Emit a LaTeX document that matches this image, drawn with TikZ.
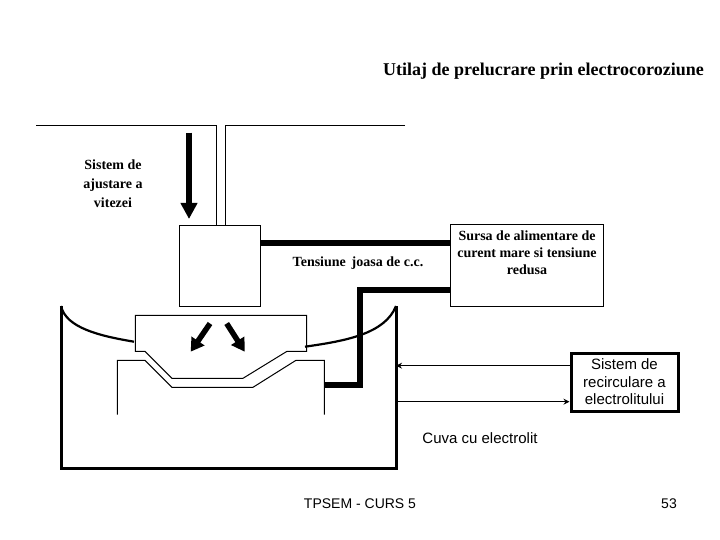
\documentclass[tikz,border=0pt]{standalone}
\usepackage{fontspec}
\setmainfont{Liberation Serif}
\setsansfont{Liberation Sans}
\usetikzlibrary{arrows.meta, positioning}
\begin{document}
\begin{tikzpicture}[
  x=1pt, y=-1pt,
  box/.style    ={draw=black, fill=white, line width=1pt, inner sep=0pt},
  wall/.style   ={line width=1pt, draw=black},
  tank/.style   ={line width=3pt, draw=black},
  level/.style  ={line width=2.2pt, draw=black},
  wire/.style   ={line width=6pt, draw=black},
  feed/.style   ={-{Triangle[width=16pt, length=16pt]}, line width=6pt, draw=black},
  jet/.style    ={-{Triangle[width=15pt, length=13pt]}, line width=5.5pt, draw=black},
  flow/.style   ={-{Stealth[length=6pt, width=6pt]}, line width=1.5pt, draw=black},
  lab/.style    ={font=\fontsize{14}{17}\selectfont\bfseries, align=center, inner sep=0pt},
  sanslab/.style={font=\fontsize{15}{17.5}\selectfont\sffamily, align=center, inner sep=0pt},
  foot/.style   ={font=\fontsize{14}{16}\selectfont\sffamily, inner sep=0pt},
]
\useasboundingbox (0,0) rectangle (720,540);

\coordinate (railL) at (216,126);
\coordinate (railR) at (225,126);
\coordinate (tankL) at (61,306);
\coordinate (tankR) at (396,306);
\coordinate (dc)    at (320,242.7);
\coordinate (bend)  at (360,289.7);
\coordinate (join)  at (324,385);
\coordinate (inlet) at (396,365.7);
\coordinate (outlet) at (396,401.7);

\node[box, minimum width=81.5pt, minimum height=81.5pt] (head) at (220,266) {};
\node[box, minimum width=153.5pt, minimum height=82pt] (source) at (527,265.7) {};
\node[box, line width=3pt, minimum width=107pt, minimum height=58pt] (recirc) at (624.5,382) {};

\draw[wall] (36,126) -- (railL) -- (railL |- head.north);
\draw[wall] (405,126) -- (railR) -- (railR |- head.north);
\draw[feed] (189,132.7) -- (189,219);

\draw[wire] (head.east |- dc) -- (source.west |- dc);
\draw[level] (305,346.7) .. controls (345,341) and (385,334) .. (tankR);
\draw[wire] (source.west |- bend) -- (bend) -- (bend |- join) -- (join);

\draw[tank] (tankL) -- (61,468) -- (396,468) -- (tankR);
\draw[level] (tankL) .. controls (66,328) and (100,336) .. (134,341.7);

\draw[wall] (135.3,315.3) -- (306.7,315.3) -- (306.7,351.3) -- (287,351.3) -- (243,378.3)
  -- (172,378.3) -- (145,351.3) -- (135.3,351.3) -- cycle;
\draw[wall] (117.3,414.7) -- (117.3,360.3) -- (145,360.3) -- (172,387.3) -- (253,387.3)
  -- (296,360.3) -- (324.3,360.3) -- (324.3,414.7);
\draw[jet] (210,323.5) -- (190.7,351.7);
\draw[jet] (226.7,323.5) -- (244.7,351.7);

\draw[flow] (recirc.west |- inlet) -- (inlet);
\draw[flow] (outlet) -- (recirc.west |- outlet);

\node[font=\fontsize{18}{20}\selectfont\bfseries, inner sep=0pt] (title) at (543.5,71) {Utilaj de prelucrare prin electrocoroziune};
\node[lab, font=\fontsize{14}{19}\selectfont\bfseries] (speed) at (113,184) {Sistem de\\ajustare a\\vitezei};
\node[lab] (low) at (358,263.5) {Tensiune\, joasa de c.c.};
\node[lab] at (source.center) [yshift=12.5pt] (srctext) {Sursa de alimentare de\\curent mare si tensiune\\redusa};
\node[sanslab] at (recirc.center) (rectext) {Sistem de\\recirculare a\\electrolitului};
\node[sanslab] (cuva) at (480,438) {Cuva cu electrolit};
\node[foot] (course) at (360,504) {TPSEM - CURS 5};
\node[foot] (page) at (669,504) {53};
\end{tikzpicture}
\end{document}
